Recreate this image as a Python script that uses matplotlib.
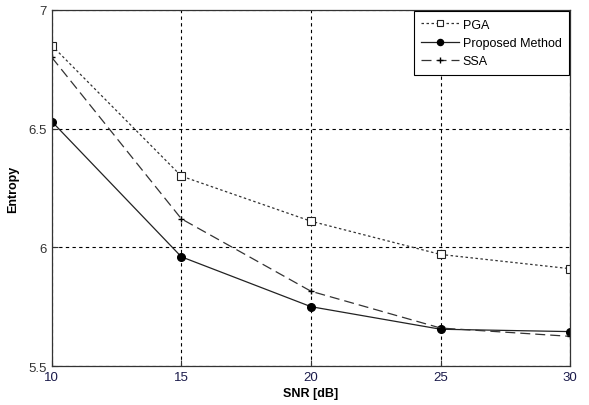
import matplotlib
matplotlib.use('Agg')
import matplotlib.pyplot as plt

snr_db = [10, 15, 20, 25, 30]
entropy_pga = [6.85, 6.30, 6.11, 5.97, 5.91]
entropy_proposed = [6.53, 5.96, 5.75, 5.655, 5.645]
entropy_ssa = [6.80, 6.12, 5.815, 5.66, 5.625]

plt.rcParams['font.family'] = ['Liberation Sans', 'DejaVu Sans']

fig = plt.figure(figsize=(5.89, 4.06), dpi=100)
ax = fig.add_axes([0.088, 0.096, 0.880, 0.877])

ax.plot(snr_db, entropy_pga, linestyle=(0, (2, 2)), color='#333333', lw=0.9,
        marker='s', ms=5.5, mfc='white', mec='#222222', mew=0.8, label='PGA')
ax.plot(snr_db, entropy_proposed, linestyle='-', color='#222222', lw=0.9,
        marker='o', ms=5.5, mfc='black', mec='black', label='Proposed Method')
ax.plot(snr_db, entropy_ssa, linestyle=(0, (8, 4)), color='#333333', lw=0.9,
        marker='+', ms=5, mec='black', mew=1.0, label='SSA')

ax.set_xlim(10, 30)
ax.set_ylim(5.5, 7)
ax.set_xticks(snr_db)
ax.set_yticks([5.5, 6, 6.5, 7])
ax.set_yticklabels(['5.5', '6', '6.5', '7'])
ax.grid(True, linestyle=(0, (3, 3)), color='black', lw=0.8)
ax.tick_params(direction='in', length=4, labelsize=9.5, colors='#333333', pad=3.5)
for lbl in ax.get_xticklabels():
    lbl.set_color('#1a1a4a')

for s in ax.spines.values():
    s.set_color('#333333')
    s.set_linewidth(0.9)

ax.set_xlabel('SNR [dB]', fontsize=9, fontweight='bold', labelpad=3)
ax.set_ylabel('Entropy', fontsize=9, fontweight='bold', labelpad=7)

leg = ax.legend(loc='upper right', fontsize=9, fancybox=False, shadow=False,
                borderaxespad=0.1, handlelength=3.0, labelspacing=0.5,
                borderpad=0.6, framealpha=1, handletextpad=0.3, markerscale=0.8)
leg.get_frame().set_edgecolor('black')
leg.get_frame().set_linewidth(0.8)

plt.savefig('out.png', dpi=100)
plt.close()
